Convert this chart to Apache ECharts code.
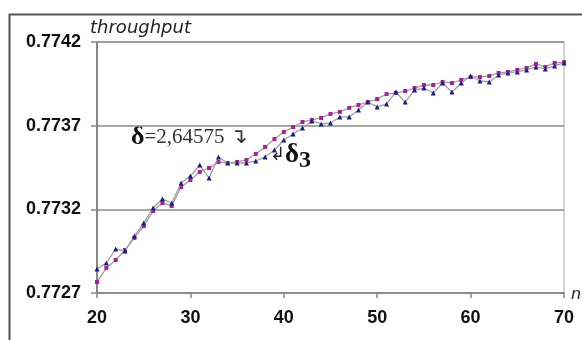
<!DOCTYPE html>
<html>
<head>
<meta charset="utf-8">
<script src="https://cdn.jsdelivr.net/npm/echarts@6/dist/echarts.min.js"></script>
<style>
  html, body { margin: 0; padding: 0; background: #fff; }
  #chart { width: 582px; height: 340px; }
</style>
</head>
<body>
<div id="chart"></div>
<script>
var nValues = [20, 21, 22, 23, 24, 25, 26, 27, 28, 29, 30, 31, 32, 33, 34, 35, 36, 37, 38, 39, 40,
    41, 42, 43, 44, 45, 46, 47, 48, 49, 50, 51, 52, 53, 54, 55, 56, 57, 58, 59, 60,
    61, 62, 63, 64, 65, 66, 67, 68, 69, 70];

// delta_3 (blue markers)
var delta3 = [0.772843, 0.772879, 0.772963, 0.772951, 0.773041, 0.773118, 0.773208, 0.773262, 0.773238, 0.773357,
    0.773399, 0.773465, 0.773387, 0.773513, 0.773477, 0.773477, 0.773477, 0.773489, 0.773513, 0.773555,
    0.773614, 0.773650, 0.773686, 0.773728, 0.773710, 0.773716, 0.773752, 0.773752, 0.773794, 0.773841,
    0.773812, 0.773830, 0.773901, 0.773841, 0.773913, 0.773925, 0.773895, 0.773955, 0.773901, 0.773955,
    0.773997, 0.773967, 0.773961, 0.774003, 0.774015, 0.774021, 0.774033, 0.774051, 0.774039, 0.774057,
    0.774075];

// delta = 2,64575 (magenta markers)
var deltaConst = [0.772766, 0.772849, 0.772897, 0.772957, 0.773029, 0.773100, 0.773190, 0.773238, 0.773220, 0.773333,
    0.773375, 0.773423, 0.773447, 0.773483, 0.773477, 0.773483, 0.773495, 0.773531, 0.773573, 0.773620,
    0.773662, 0.773692, 0.773722, 0.773734, 0.773746, 0.773770, 0.773782, 0.773806, 0.773824, 0.773841,
    0.773859, 0.773889, 0.773895, 0.773907, 0.773925, 0.773943, 0.773943, 0.773961, 0.773955, 0.773973,
    0.773991, 0.773991, 0.773997, 0.774015, 0.774021, 0.774033, 0.774045, 0.774069, 0.774051, 0.774075,
    0.774080];

var yTicks = [0.7727, 0.7732, 0.7737, 0.7742];

function pairs(xs, ys) {
    return xs.map(function (x, i) { return [x, ys[i]]; });
}

var myChart = echarts.init(document.getElementById('chart'));

var option = {
    animation: false,
    backgroundColor: '#fff',
    grid: { left: 97, right: 18, top: 42, bottom: 47, show: true, borderColor: '#aaa', borderWidth: 1 },
    xAxis: {
        type: 'value',
        min: 20,
        max: 70,
        interval: 10,
        axisLine: { lineStyle: { color: '#888', width: 1.5 } },
        axisTick: { show: true, length: 5, lineStyle: { color: '#888', width: 1.5 } },
        axisLabel: { color: '#111', fontFamily: 'Liberation Sans', fontWeight: 'bold', fontSize: 18, margin: 16 },
        splitLine: { show: false }
    },
    yAxis: {
        type: 'value',
        min: yTicks[0],
        max: yTicks[yTicks.length - 1],
        interval: 0.0005,
        axisLine: { show: true, lineStyle: { color: '#888', width: 2 } },
        axisTick: { show: true, length: 6, lineStyle: { color: '#888', width: 1.5 } },
        axisLabel: {
            color: '#111', fontFamily: 'Liberation Sans', fontWeight: 'bold', fontSize: 18, margin: 16,
            formatter: function (v) { return v.toFixed(4); }
        },
        splitLine: { show: true, lineStyle: { color: '#8a8a8a', width: 1.5 } }
    },
    graphic: [
        { type: 'rect', left: 7, top: 12, shape: { width: 600, height: 400 }, style: { fill: 'none', stroke: '#555', lineWidth: 2 }, silent: true },
        { type: 'text', left: 90, top: 19, style: { text: 'throughput', font: 'italic 18px "DejaVu Sans"', fill: '#222' } },
        { type: 'text', left: 571, top: 287, style: { text: 'n', font: 'italic 16px "DejaVu Sans"', fill: '#222' } },
        {
            type: 'text', left: 131, top: 124,
            style: {
                text: '{d|δ}{v|=2,64575 ↴}',
                rich: {
                    d: { font: 'bold 26px "Liberation Serif"', fill: '#111' },
                    v: { font: '21px "Liberation Serif"', fill: '#333' }
                }
            }
        },
        {
            type: 'text', left: 270, top: 142,
            style: {
                text: '{a|↲}{d|δ}{s|3}',
                rich: {
                    a: { font: '18px "DejaVu Sans"', fill: '#222' },
                    d: { font: 'bold 27px "Liberation Serif"', fill: '#111' },
                    s: { font: 'bold 24px "Liberation Serif"', fill: '#111', verticalAlign: 'bottom', padding: [10, 0, 0, 0] }
                }
            }
        }
    ],
    series: [
        {
            name: 'δ=2,64575',
            type: 'line',
            data: pairs(nValues, deltaConst),
            showAllSymbol: true,
            symbol: 'rect',
            symbolSize: 4,
            itemStyle: { color: '#a8209a' },
            lineStyle: { color: '#a0a0a0', width: 1.3 },
            z: 2
        },
        {
            name: 'δ3',
            type: 'line',
            data: pairs(nValues, delta3),
            showAllSymbol: true,
            symbol: 'triangle',
            symbolSize: 5,
            itemStyle: { color: '#1a1a88' },
            lineStyle: { color: '#a0a0a0', width: 1.3 },
            z: 3
        }
    ]
};
myChart.setOption(option);
</script>
</body>
</html>
